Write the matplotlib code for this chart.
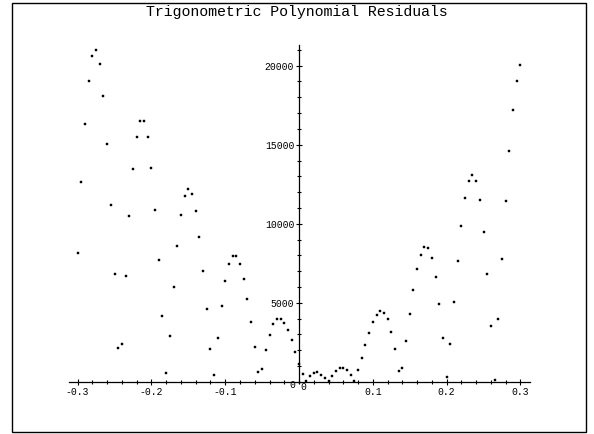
import numpy as np
import matplotlib.pyplot as plt
from matplotlib.patches import Rectangle
from matplotlib.ticker import MultipleLocator

plt.rcParams['font.family'] = ['Liberation Mono', 'DejaVu Sans Mono']

# sample grid: -0.3 .. 0.3, step 0.005
x_start = -0.3
x_step = 0.005

residuals = [
    8150, 12620, 16330, 19050, 20630, 20990, 20130, 18080, 15030, 11180,
    6800, 2150, 2400, 6710, 10470, 13440, 15470, 16480, 16480, 15470,
    13540, 10890, 7680, 4180, 570, 2870, 5990, 8610, 10570, 11770,
    12200, 11860, 10800, 9160, 7030, 4600, 2050, 440, 2790, 4790,
    6350, 7430, 7960, 7960, 7430, 6500, 5250, 3780, 2200, 630,
    790, 2030, 2980, 3630, 3950, 3970, 3720, 3250, 2620, 1880,
    1100, 510, 30, 340, 570, 600, 440, 220, 60, 380,
    680, 870, 890, 720, 410, 60, 740, 1520, 2320, 3100,
    3760, 4240, 4480, 4370, 3950, 3150, 2050, 660, 870, 2560,
    4270, 5800, 7110, 8040, 8530, 8440, 7830, 6650, 4940, 2790,
    300, 2370, 5060, 7620, 9850, 11610, 12720, 13100, 12700, 11480,
    9480, 6800, 3540, 90, 3950, 7790, 11420, 14620, 17200, 19050,
    20060,
]
x = x_start + x_step * np.arange(len(residuals))

x_ticks = [-0.3, -0.2, -0.1, 0.1, 0.2, 0.3]
x_labels = ['-0.3', '-0.2', '-0.1', '0.1', '0.2', '0.3']
y_ticks = [5000, 10000, 15000, 20000]
y_labels = ['5000', '10000', '15000', '20000']

W, H = 594, 434
fig = plt.figure(figsize=(W / 100, H / 100), dpi=100)

# outer frame
fig.patches.append(Rectangle((12 / W, 2 / H), 574 / W, 429 / H,
                             transform=fig.transFigure, fill=False,
                             edgecolor='black', linewidth=1.0))

fig.text(297 / W, 1 - 12 / H, 'Trigonometric Polynomial Residuals',
         ha='center', va='center', fontsize=10.7)

ax = fig.add_axes([69 / W, (H - 383) / H, 461 / W, 338 / H])
ax.set_xlim(-0.3117, 0.3130)
ax.set_ylim(-82, 21310)
ax.patch.set_visible(False)

ax.plot(x, residuals, linestyle='none', marker='s', markersize=1.5,
        markeredgewidth=0.3, color='black')

# axes through the origin
for side in ['top', 'right']:
    ax.spines[side].set_visible(False)
ax.spines['left'].set_position(('data', 0))
ax.spines['bottom'].set_position(('data', 0))
ax.spines['left'].set_linewidth(0.9)
ax.spines['bottom'].set_linewidth(0.9)

ax.set_xticks(x_ticks)
ax.set_xticklabels(x_labels)
ax.set_yticks(y_ticks)
ax.set_yticklabels(y_labels)
ax.xaxis.set_minor_locator(MultipleLocator(0.02))
ax.yaxis.set_minor_locator(MultipleLocator(1000))
ax.tick_params(which='major', direction='inout', length=5, width=0.8,
               labelsize=7, pad=1)
ax.tick_params(which='minor', direction='inout', length=3, width=0.8)

ax.annotate('0', xy=(0, 0), xytext=(-2.7, -2.4), textcoords='offset points',
            ha='right', va='center', fontsize=7)
ax.annotate('0', xy=(0, 0), xytext=(0.7, -3.8), textcoords='offset points',
            ha='left', va='center', fontsize=7)

fig.savefig('out.png', dpi=100)
